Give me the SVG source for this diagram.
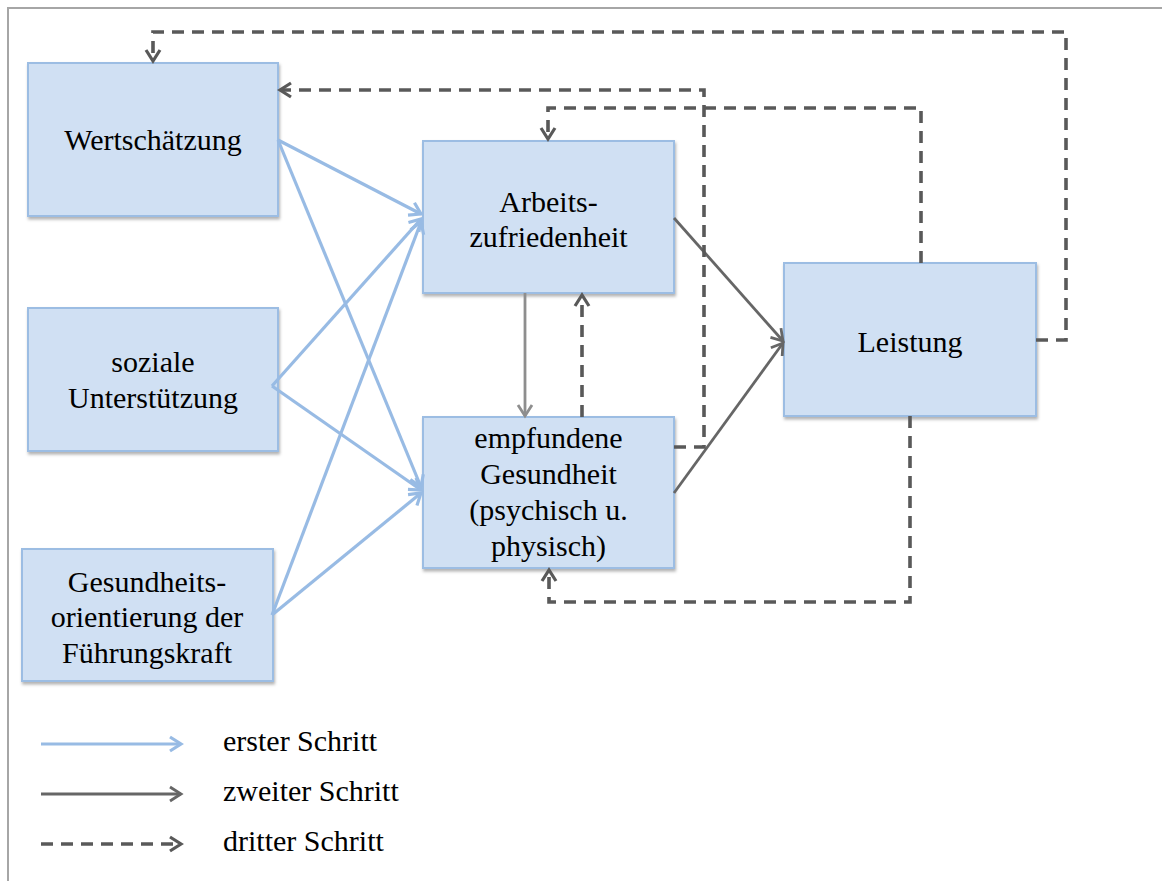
<svg xmlns="http://www.w3.org/2000/svg" width="1162" height="881" viewBox="0 0 1162 881">
  <style>
    .box { fill: #D0E0F3; stroke: #9CBDE3; stroke-width: 2; filter: url(#shadow); }
    .lbl { font-family: "Liberation Serif", "Times New Roman", serif; font-size: 30px; fill: #000; text-anchor: middle; }
    .leg { font-family: "Liberation Serif", "Times New Roman", serif; font-size: 30px; fill: #000; }
    .step1 { fill: none; stroke: #98BBE4; stroke-width: 3.2; marker-end: url(#headBlue); }
    .step2 { fill: none; stroke: #666666; stroke-width: 2.8; marker-end: url(#headGray); }
    .step2l { fill: none; stroke: #8E8E8E; stroke-width: 2.8; marker-end: url(#headLight); }
    .step3 { fill: none; stroke: #595959; stroke-width: 3.6; stroke-dasharray: 12 8; marker-end: url(#headDark); }
  </style>
  <defs>
    <filter id="shadow" x="-10%" y="-10%" width="125%" height="125%">
      <feDropShadow dx="1" dy="2.5" stdDeviation="1.5" flood-color="#000" flood-opacity="0.3"/>
    </filter>
    <marker id="headBlue" markerUnits="userSpaceOnUse" viewBox="-14 -9 16 18" markerWidth="16" markerHeight="18" refX="0" refY="0" orient="auto" overflow="visible">
      <path d="M-11,-7 L0,0 L-11,7" fill="none" stroke="#98BBE4" stroke-width="3.2"/>
    </marker>
    <marker id="headGray" markerUnits="userSpaceOnUse" viewBox="-14 -9 16 18" markerWidth="16" markerHeight="18" refX="0" refY="0" orient="auto" overflow="visible">
      <path d="M-11,-7 L0,0 L-11,7" fill="none" stroke="#666666" stroke-width="2.8"/>
    </marker>
    <marker id="headLight" markerUnits="userSpaceOnUse" viewBox="-14 -9 16 18" markerWidth="16" markerHeight="18" refX="0" refY="0" orient="auto" overflow="visible">
      <path d="M-11,-7 L0,0 L-11,7" fill="none" stroke="#8E8E8E" stroke-width="2.8"/>
    </marker>
    <marker id="headDark" markerUnits="userSpaceOnUse" viewBox="-14 -9 16 18" markerWidth="16" markerHeight="18" refX="0" refY="0" orient="auto" overflow="visible">
      <path d="M-11,-7 L0,0 L-11,7" fill="none" stroke="#595959" stroke-width="3.2"/>
    </marker>
  </defs>

  <rect width="1162" height="881" fill="#ffffff"/>
  <!-- page frame (top and left edges) -->
  <path d="M8,881 V8 H1162" fill="none" stroke="#A6A6A6" stroke-width="2"/>

  <!-- nodes -->
  <g id="wertschaetzung">
    <rect class="box" x="28" y="63" width="250" height="153"/>
    <text class="lbl" x="153" y="150">Wertschätzung</text>
  </g>
  <g id="soziale-unterstuetzung">
    <rect class="box" x="28" y="308" width="250" height="143"/>
    <text class="lbl" x="153" y="372">soziale</text>
    <text class="lbl" x="153" y="408">Unterstützung</text>
  </g>
  <g id="gesundheitsorientierung">
    <rect class="box" x="22" y="549" width="251" height="132"/>
    <text class="lbl" x="147" y="592">Gesundheits-</text>
    <text class="lbl" x="147" y="627">orientierung der</text>
    <text class="lbl" x="147" y="663">Führungskraft</text>
  </g>
  <g id="arbeitszufriedenheit">
    <rect class="box" x="423" y="141" width="251" height="152"/>
    <text class="lbl" x="548.5" y="212">Arbeits-</text>
    <text class="lbl" x="548.5" y="247">zufriedenheit</text>
  </g>
  <g id="empfundene-gesundheit">
    <rect class="box" x="423" y="417" width="251" height="151"/>
    <text class="lbl" x="548.5" y="448">empfundene</text>
    <text class="lbl" x="548.5" y="484">Gesundheit</text>
    <text class="lbl" x="548.5" y="520">(psychisch u.</text>
    <text class="lbl" x="548.5" y="556">physisch)</text>
  </g>
  <g id="leistung">
    <rect class="box" x="784" y="263" width="252" height="153"/>
    <text class="lbl" x="910" y="352">Leistung</text>
  </g>

  <!-- connectors -->
  <g id="connectors">
    <!-- first step: predictors to mediators -->
    <path class="step1" d="M278,140 L421,214"/>
    <path class="step1" d="M278,140 L421,487"/>
    <path class="step1" d="M272,386 L421,219"/>
    <path class="step1" d="M272,386 L421,490"/>
    <path class="step1" d="M272,615 L421,222"/>
    <path class="step1" d="M272,615 L421,493"/>
    <!-- second step -->
    <path class="step2l" d="M525,293 V416"/>
    <path class="step2" d="M674,218 L783,341"/>
    <path class="step2" d="M674,493 L783,343"/>
    <!-- third step: feedback loops -->
    <path class="step3" d="M1036,340 H1066 V32 H153 V61"/>
    <path class="step3" d="M674,447 H704 V90 H280"/>
    <path class="step3" d="M921,263 V108 H548 V139"/>
    <path class="step3" d="M582,417 V295"/>
    <path class="step3" d="M910,416 V602 H549 V570"/>
  </g>

  <!-- legend -->
  <g id="legend">
    <path class="step1" d="M41,744 H181"/>
    <path class="step2" d="M41,794 H181"/>
    <path class="step3" d="M41,844 H181"/>
    <text class="leg" x="223" y="751">erster Schritt</text>
    <text class="leg" x="223" y="801">zweiter Schritt</text>
    <text class="leg" x="223" y="851">dritter Schritt</text>
  </g>
</svg>
